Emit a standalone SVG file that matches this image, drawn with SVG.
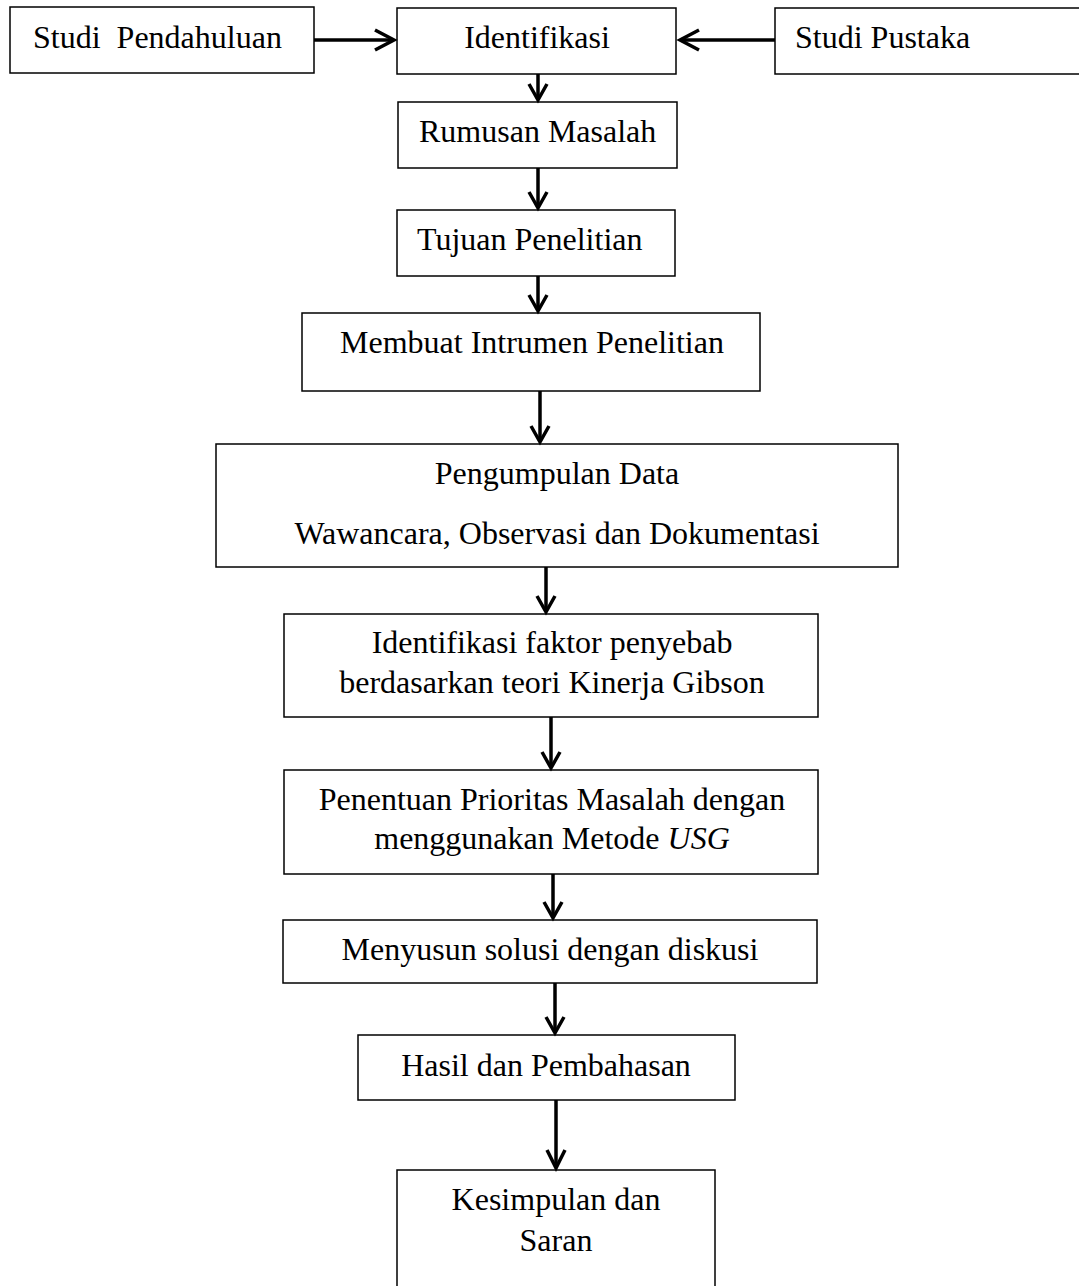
<svg xmlns="http://www.w3.org/2000/svg" width="1079" height="1286" viewBox="0 0 1079 1286">
<defs>
<style>
.box{fill:#fff;stroke:#000;stroke-width:1.5}
.t{font-family:"Liberation Serif","Times New Roman",serif;font-size:32px;fill:#000}
.c{text-anchor:middle}
.edge{stroke:#000;stroke-width:3.5;fill:none}
.head{stroke:#000;stroke-width:3.5;fill:none;stroke-linejoin:miter}
</style>
</defs>
<rect width="1079" height="1286" fill="#fff"/>
<g id="n-studi-pendahuluan"><rect class="box" x="10" y="7" width="304" height="66"/><text class="t" x="33" y="47.5" xml:space="preserve">Studi  Pendahuluan</text></g>
<g id="n-identifikasi"><rect class="box" x="397" y="8" width="279" height="66"/><text class="t c" x="537" y="48">Identifikasi</text></g>
<g id="n-studi-pustaka"><rect class="box" x="775" y="8" width="310" height="66"/><text class="t" x="795" y="48">Studi Pustaka</text></g>
<g id="n-rumusan"><rect class="box" x="398" y="102" width="279" height="66"/><text class="t" x="419" y="142">Rumusan Masalah</text></g>
<g id="n-tujuan"><rect class="box" x="397" y="210" width="278" height="66"/><text class="t" x="417" y="250">Tujuan Penelitian</text></g>
<g id="n-membuat"><rect class="box" x="302" y="313" width="458" height="78"/><text class="t" x="340" y="352.5">Membuat Intrumen Penelitian</text></g>
<g id="n-pengumpulan"><rect class="box" x="216" y="444" width="682" height="123"/><text class="t c" x="557" y="483.5">Pengumpulan Data</text><text class="t c" x="557" y="543.5">Wawancara, Observasi dan Dokumentasi</text></g>
<g id="n-identifikasi-faktor"><rect class="box" x="284" y="614" width="534" height="103"/><text class="t c" x="552" y="653">Identifikasi faktor penyebab</text><text class="t c" x="552" y="692.5">berdasarkan teori Kinerja Gibson</text></g>
<g id="n-penentuan"><rect class="box" x="284" y="770" width="534" height="104"/><text class="t c" x="552" y="809.5">Penentuan Prioritas Masalah dengan</text><text class="t c" x="552" y="849">menggunakan Metode <tspan font-style="italic">USG</tspan></text></g>
<g id="n-menyusun"><rect class="box" x="283" y="920" width="534" height="63"/><text class="t c" x="550" y="959.5">Menyusun solusi dengan diskusi</text></g>
<g id="n-hasil"><rect class="box" x="358" y="1035" width="377" height="65"/><text class="t c" x="546" y="1075.5">Hasil dan Pembahasan</text></g>
<g id="n-kesimpulan"><rect class="box" x="397" y="1170" width="318" height="130"/><text class="t c" x="556" y="1210">Kesimpulan dan</text><text class="t c" x="556" y="1251">Saran</text></g>
<g id="connectors">
<line class="edge" x1="314" y1="40" x2="394" y2="40"/><polyline class="head" points="375,30 394,40 375,50"/>
<line class="edge" x1="775" y1="40" x2="680" y2="40"/><polyline class="head" points="699,30 680,40 699,50"/>
<line class="edge" x1="538" y1="74" x2="538" y2="100"/><polyline class="head" points="529,84 538,100 547,84"/>
<line class="edge" x1="538" y1="168" x2="538" y2="208"/><polyline class="head" points="529,192 538,208 547,192"/>
<line class="edge" x1="538" y1="276" x2="538" y2="311"/><polyline class="head" points="529,295 538,311 547,295"/>
<line class="edge" x1="540" y1="391" x2="540" y2="442"/><polyline class="head" points="531,426 540,442 549,426"/>
<line class="edge" x1="546" y1="567" x2="546" y2="612"/><polyline class="head" points="537,596 546,612 555,596"/>
<line class="edge" x1="551" y1="717" x2="551" y2="768"/><polyline class="head" points="542,752 551,768 560,752"/>
<line class="edge" x1="553" y1="874" x2="553" y2="918"/><polyline class="head" points="544,902 553,918 562,902"/>
<line class="edge" x1="555" y1="983" x2="555" y2="1033"/><polyline class="head" points="546,1017 555,1033 564,1017"/>
<line class="edge" x1="556" y1="1100" x2="556" y2="1168"/><polyline class="head" points="547,1150 556,1168 565,1150"/>
</g>
</svg>
